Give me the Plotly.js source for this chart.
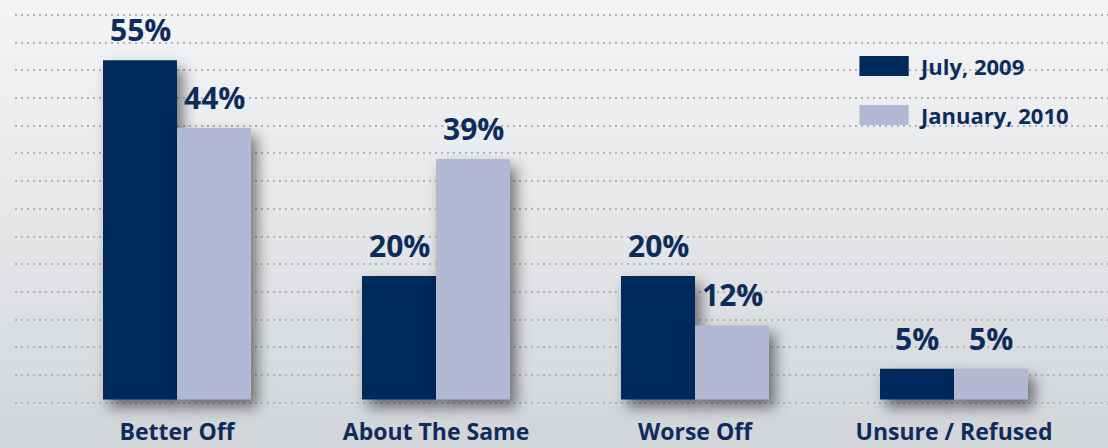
<!DOCTYPE html>
<html>
<head>
<meta charset="utf-8">
<script src="https://cdn.plot.ly/plotly-3.0.1.min.js"></script>
<style>
  html, body { margin: 0; padding: 0; }
  body { width: 1108px; height: 448px; overflow: hidden;
         background: linear-gradient(to bottom, #f3f4f5 0%, #e6e8ea 45%, #d2d5d8 100%); }
  #chart { width: 1108px; height: 448px; }
  .barlayer .trace path { filter: drop-shadow(6px 8px 7px rgba(0,0,0,0.5)); }
</style>
</head>
<body>
<div id="chart"></div>
<script>
const categories = ['Better Off', 'About The Same', 'Worse Off', 'Unsure / Refused'];
const seriesNames = ['July, 2009', 'January, 2010'];
const july2009 = [55, 20, 20, 5];
const january2010 = [44, 39, 12, 5];

const colors = ['#00295c', '#b1b9d4'];
const textColor = '#0d2c5c';
const seriesValues = [july2009, january2010];

const traces = seriesValues.map((vals, i) => ({
  type: 'bar',
  name: seriesNames[i],
  x: categories,
  y: vals,
  marker: { color: colors[i], line: { width: 0 } },
  hoverinfo: 'skip',
  showlegend: false
}));

const annotations = [];
seriesValues.forEach((vals, i) => {
  vals.forEach((v, j) => {
    annotations.push({
      x: categories[j], y: v, xref: 'x', yref: 'y',
      xshift: i === 0 ? -37 : 37, yshift: 8,
      yanchor: 'bottom', xanchor: 'center',
      text: v + '%', showarrow: false,
      font: { family: 'Open Sans', size: 30, color: textColor, weight: 'bold' }
    });
  });
});

// legend (manual, from series names)
const H = 448;
const legendY = [1 - 66 / H, 1 - 115 / H];
const shapes = [];
seriesNames.forEach((n, i) => {
  shapes.push({
    type: 'rect', xref: 'paper', yref: 'paper',
    x0: 856 / 1108, x1: 906 / 1108,
    y0: legendY[i] - 10 / H, y1: legendY[i] + 10 / H,
    fillcolor: colors[i], line: { width: 0 }, layer: 'above'
  });
  annotations.push({
    xref: 'paper', yref: 'paper', x: 914 / 1108, y: legendY[i],
    xanchor: 'left', yanchor: 'middle', text: n, showarrow: false,
    font: { family: 'Open Sans', size: 22, color: textColor, weight: 'bold' }
  });
});

const layout = {
  width: 1108, height: H,
  margin: { l: 15, r: 0, t: 0, b: 0 },
  paper_bgcolor: 'rgba(0,0,0,0)',
  plot_bgcolor: 'rgba(0,0,0,0)',
  barmode: 'group', bargap: 0.4286, bargroupgap: 0,
  xaxis: {
    type: 'category', range: [-0.6255, 3.5946],
    showgrid: false, zeroline: false, showline: false, ticks: '',
    ticklabelposition: 'inside',
    tickfont: { family: 'Open Sans', size: 23, color: textColor, weight: 'bold' },
    fixedrange: true
  },
  yaxis: {
    range: [64.75 - H / 6.17, 64.75],
    tick0: -0.535, dtick: 4.49,
    showticklabels: false, zeroline: false, showline: false, ticks: '',
    showgrid: true, gridcolor: '#b2b4b7', gridwidth: 2, griddash: '2px,4px',
    fixedrange: true
  },
  shapes: shapes,
  annotations: annotations,
  showlegend: false
};

Plotly.newPlot('chart', traces, layout, { displayModeBar: false, staticPlot: true });
</script>
</body>
</html>
